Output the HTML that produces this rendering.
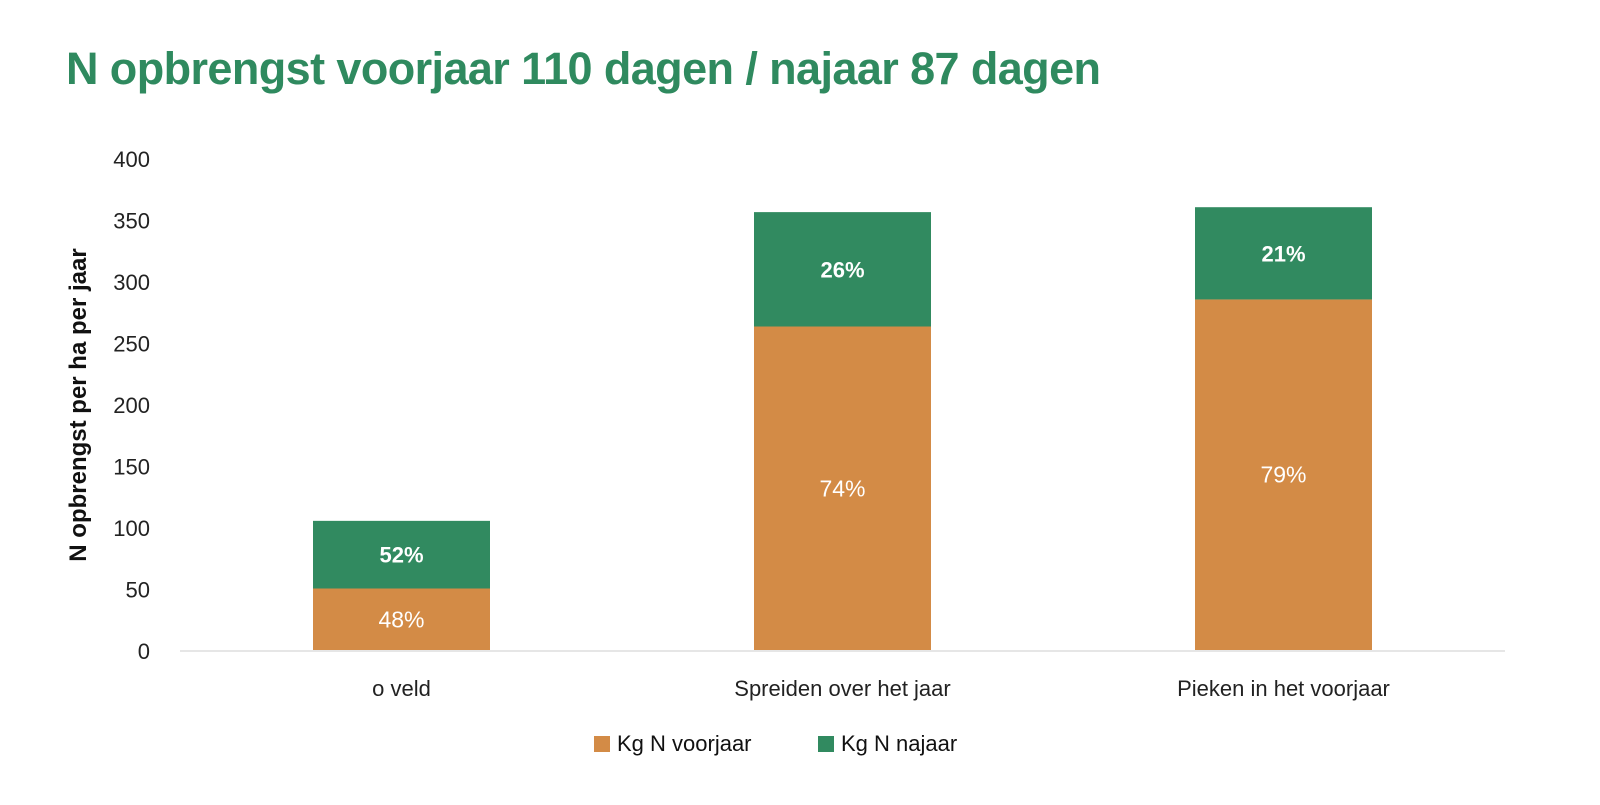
<!DOCTYPE html>
<html><head><meta charset="utf-8"><style>
body{margin:0;background:#fff;width:1600px;height:800px;overflow:hidden;font-family:"Liberation Sans",sans-serif}
</style></head><body>
<svg id="c" width="1600" height="800" xmlns="http://www.w3.org/2000/svg">
<text x="66" y="84" font-size="45" font-weight="bold" fill="#2f8a5f" textLength="1035">N opbrengst voorjaar 110 dagen / najaar 87 dagen</text>
<text transform="translate(86,405) rotate(-90)" text-anchor="middle" font-size="24" font-weight="bold" fill="#111">N opbrengst per ha per jaar</text>
<line x1="180" y1="651" x2="1505" y2="651" stroke="#ddd" stroke-width="1.5"/>
<g id="g"></g>
<rect x="594" y="736" width="16" height="16" fill="#d38b46"/>
<text x="617" y="751" font-size="22" fill="#111">Kg N voorjaar</text>
<rect x="818" y="736" width="16" height="16" fill="#318a60"/>
<text x="841" y="751" font-size="22" fill="#111">Kg N najaar</text>
</svg>
<script>
const categories=["o veld","Spreiden over het jaar","Pieken in het voorjaar"];
const voorjaar=[50,263,285];
const najaar=[55,93,75];
const pctVoorjaar=["48%","74%","79%"];
const pctNajaar=["52%","26%","21%"];
const yTicks=[0,50,100,150,200,250,300,350,400];
const NS="http://www.w3.org/2000/svg";
const g=document.getElementById('g');
const y=v=>650-v*1.23;
const xc=i=>401.5+i*441;
const bw=177;
function el(t,a){const e=document.createElementNS(NS,t);for(const k in a)e.setAttribute(k,a[k]);g.appendChild(e);return e;}
yTicks.forEach(t=>{const e=el('text',{x:150,y:y(t)+9,'text-anchor':'end','font-size':22,fill:'#222'});e.textContent=t;

});
categories.forEach((c,i)=>{
const a=voorjaar[i],b=najaar[i];
const r1=el('rect',{x:xc(i)-bw/2,y:y(a),width:bw,height:y(0)-y(a),fill:'#d38b46'});


const r2=el('rect',{x:xc(i)-bw/2,y:y(a+b),width:bw,height:y(a)-y(a+b),fill:'#318a60'});


const t1=el('text',{x:xc(i),y:(y(0)+y(a))/2+8,'text-anchor':'middle','font-size':23,fill:'#fff'});t1.textContent=pctVoorjaar[i];


const t2=el('text',{x:xc(i),y:(y(a)+y(a+b))/2+8,'text-anchor':'middle','font-size':22,'font-weight':'bold',fill:'#fff'});t2.textContent=pctNajaar[i];


const t3=el('text',{x:xc(i),y:696,'text-anchor':'middle','font-size':22,fill:'#222'});t3.textContent=c;


});
</script>
</body></html>
